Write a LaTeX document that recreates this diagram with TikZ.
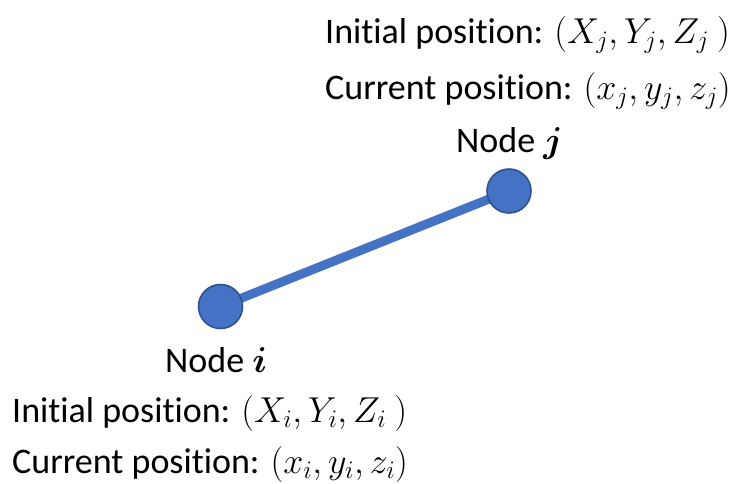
\documentclass[tikz,border=0pt]{standalone}
\usepackage{fix-cm}
\usepackage{amsmath,bm}
\usepackage{fontspec}
\setmainfont[Ligatures=NoCommon]{Carlito}
\usepackage{tikz}
\usetikzlibrary{backgrounds}
\definecolor{nodeFill}{HTML}{4472c4}
\definecolor{nodeEdge}{HTML}{2f528f}
\newcommand{\bigtxt}{\fontsize{36}{43}\selectfont}

\begin{document}
\begin{tikzpicture}[x=1pt,y=-1pt,pt/.style={circle, fill=nodeFill, draw=nodeEdge, line width=1.6pt, minimum size=44pt, inner sep=0pt},lbl/.style={anchor=base west, inner sep=0pt, font=\bigtxt},bar/.style={line width=9pt, color=nodeFill}]
\useasboundingbox (0,0) rectangle (735,483);
\node[pt] (ni) at (220.5,306.5) {};
\node[pt] (nj) at (509,191) {};
\begin{pgfonlayer}{background}
\draw[bar] (ni.center)--(nj.center);
\end{pgfonlayer}
% node j
\node[lbl] (nameJ) at (456,152) {Node $\bm{j}$};
\node[lbl] (initJ) at (325,43) {Initial position: $(X_j, Y_j, Z_j\ )$};
\node[lbl] (curJ) at (325,99) {Current position: $(x_j, y_j, z_j)$};
% node i
\node[lbl] (nameI) at (165,372) {Node $\bm{i}$};
\node[lbl] (initI) at (12,422) {Initial position: $(X_i, Y_i, Z_i\ )$};
\node[lbl] (curI) at (12,473) {Current position: $(x_i, y_i, z_i)$};
\end{tikzpicture}
\end{document}
